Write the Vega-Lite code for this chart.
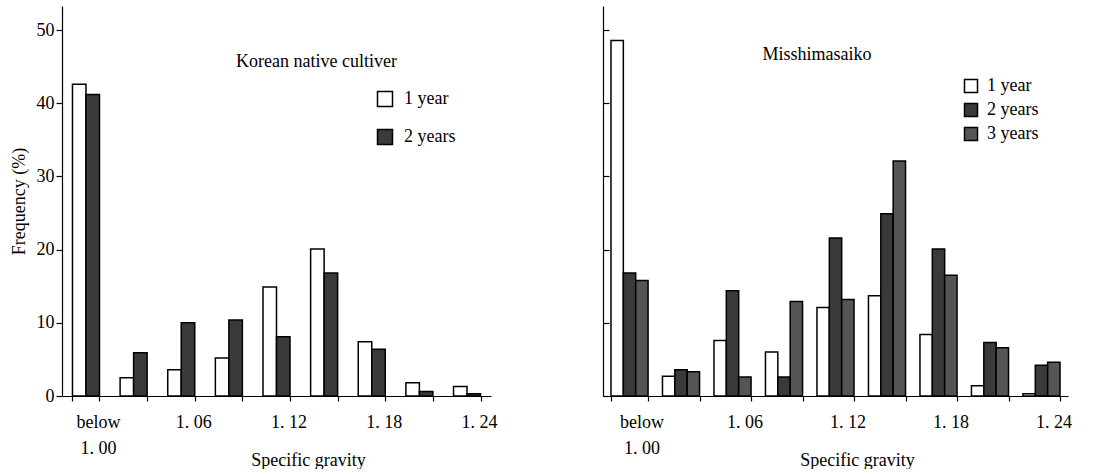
{
  "$schema": "https://vega.github.io/schema/vega-lite/v6.json",
  "padding": {"left": 10, "top": 6, "right": 5, "bottom": 0},
  "background": "white",
  "spacing": 104,
  "config": {
    "font": "'Liberation Serif', 'DejaVu Serif', serif",
    "view": {"stroke": null},
    "axis": {"labelFont": "'Liberation Serif', 'DejaVu Serif', serif", "titleFont": "'Liberation Serif', 'DejaVu Serif', serif", "labelFontSize": 18, "titleFontSize": 18, "titleFontWeight": "normal", "labelColor": "black", "titleColor": "black", "domainColor": "black", "tickColor": "black", "grid": false, "domainWidth": 1.2, "tickWidth": 1.2},
    "axisX": {"ticks": true, "tickBand": "extent", "tickSize": 5, "tickColor": "black", "tickOpacity": 1},
    "legend": {"labelFont": "'Liberation Serif', 'DejaVu Serif', serif", "labelFontSize": 18, "labelColor": "black", "padding": 0, "symbolType": "square", "symbolStrokeColor": "black", "symbolStrokeWidth": 1.5, "symbolOpacity": 1},
    "text": {"font": "'Liberation Serif', 'DejaVu Serif', serif", "fontSize": 18, "color": "black"}
  },
  "hconcat": [
    {
      "width": 429,
      "height": 390,
      "data": {"values": [
        {"gravity": "below 1.00", "age": "1 year", "freq": 42.6},
        {"gravity": "below 1.00", "age": "2 years", "freq": 41.2},
        {"gravity": "1. 03", "age": "1 year", "freq": 2.5},
        {"gravity": "1. 03", "age": "2 years", "freq": 5.9},
        {"gravity": "1. 06", "age": "1 year", "freq": 3.6},
        {"gravity": "1. 06", "age": "2 years", "freq": 10.0},
        {"gravity": "1. 09", "age": "1 year", "freq": 5.2},
        {"gravity": "1. 09", "age": "2 years", "freq": 10.4},
        {"gravity": "1. 12", "age": "1 year", "freq": 14.9},
        {"gravity": "1. 12", "age": "2 years", "freq": 8.1},
        {"gravity": "1. 15", "age": "1 year", "freq": 20.1},
        {"gravity": "1. 15", "age": "2 years", "freq": 16.8},
        {"gravity": "1. 18", "age": "1 year", "freq": 7.4},
        {"gravity": "1. 18", "age": "2 years", "freq": 6.4},
        {"gravity": "1. 21", "age": "1 year", "freq": 1.8},
        {"gravity": "1. 21", "age": "2 years", "freq": 0.6},
        {"gravity": "1. 24", "age": "1 year", "freq": 1.3},
        {"gravity": "1. 24", "age": "2 years", "freq": 0.3}
      ]},
      "layer": [
        {
          "mark": {"type": "bar", "stroke": "black", "strokeWidth": 1.5},
          "encoding": {
            "x": {"field": "gravity", "type": "nominal",
              "scale": {"domain": ["below 1.00", "1. 03", "1. 06", "1. 09", "1. 12", "1. 15", "1. 18", "1. 21", "1. 24"], "paddingInner": 0.433, "paddingOuter": 0.22},
              "axis": {"title": "Specific gravity", "labelAngle": 0, "labelPadding": 12, "labelOffset": 12, "labelLineHeight": 26, "labelBaseline": "top", "labelOverlap": false, "titleX": 246, "titleY": 55, "titleBaseline": "top",
                "labelExpr": "datum.value == 'below 1.00' ? ['below', '1. 00'] : (indexof(['1. 06', '1. 12', '1. 18', '1. 24'], datum.value) >= 0 ? datum.value : '')"}},
            "xOffset": {"field": "age", "type": "nominal", "scale": {"domain": ["1 year", "2 years"], "paddingInner": 0}},
            "y": {"field": "freq", "type": "quantitative", "scale": {"domain": [0, 53.3], "nice": false},
              "axis": {"title": "Frequency (%)", "values": [0, 10, 20, 30, 40, 50], "tickSize": 6, "labelPadding": 2, "titlePadding": 8}},
            "fill": {"field": "age", "type": "nominal", "scale": {"domain": ["1 year", "2 years"], "range": ["white", "#3a3a3a"]},
              "legend": {"title": null, "orient": "none", "legendX": 314, "legendY": 84, "symbolSize": 225, "rowPadding": 16, "labelOffset": 10}}
          }
        },
        {
          "data": {"values": [{"label": "Korean native cultiver"}]},
          "mark": {"type": "text", "align": "center", "baseline": "middle"},
          "encoding": {
            "x": {"datum": "1. 15", "type": "nominal", "bandPosition": 0.22},
            "y": {"datum": 45.6, "type": "quantitative"},
            "text": {"field": "label", "type": "nominal"}
          }
        }
      ]
    },
    {
      "width": 465,
      "height": 390,
      "data": {"values": [
        {"gravity": "below 1.00", "age": "1 year", "freq": 48.6},
        {"gravity": "below 1.00", "age": "2 years", "freq": 16.8},
        {"gravity": "below 1.00", "age": "3 years", "freq": 15.8},
        {"gravity": "1. 03", "age": "1 year", "freq": 2.7},
        {"gravity": "1. 03", "age": "2 years", "freq": 3.6},
        {"gravity": "1. 03", "age": "3 years", "freq": 3.3},
        {"gravity": "1. 06", "age": "1 year", "freq": 7.6},
        {"gravity": "1. 06", "age": "2 years", "freq": 14.4},
        {"gravity": "1. 06", "age": "3 years", "freq": 2.6},
        {"gravity": "1. 09", "age": "1 year", "freq": 6.0},
        {"gravity": "1. 09", "age": "2 years", "freq": 2.6},
        {"gravity": "1. 09", "age": "3 years", "freq": 12.9},
        {"gravity": "1. 12", "age": "1 year", "freq": 12.1},
        {"gravity": "1. 12", "age": "2 years", "freq": 21.6},
        {"gravity": "1. 12", "age": "3 years", "freq": 13.2},
        {"gravity": "1. 15", "age": "1 year", "freq": 13.7},
        {"gravity": "1. 15", "age": "2 years", "freq": 24.9},
        {"gravity": "1. 15", "age": "3 years", "freq": 32.1},
        {"gravity": "1. 18", "age": "1 year", "freq": 8.4},
        {"gravity": "1. 18", "age": "2 years", "freq": 20.1},
        {"gravity": "1. 18", "age": "3 years", "freq": 16.5},
        {"gravity": "1. 21", "age": "1 year", "freq": 1.4},
        {"gravity": "1. 21", "age": "2 years", "freq": 7.3},
        {"gravity": "1. 21", "age": "3 years", "freq": 6.6},
        {"gravity": "1. 24", "age": "1 year", "freq": 0.3},
        {"gravity": "1. 24", "age": "2 years", "freq": 4.2},
        {"gravity": "1. 24", "age": "3 years", "freq": 4.6}
      ]},
      "layer": [
        {
          "mark": {"type": "bar", "stroke": "black", "strokeWidth": 1.5},
          "encoding": {
            "x": {"field": "gravity", "type": "nominal",
              "scale": {"domain": ["below 1.00", "1. 03", "1. 06", "1. 09", "1. 12", "1. 15", "1. 18", "1. 21", "1. 24"], "paddingInner": 0.28, "paddingOuter": 0.155},
              "axis": {"title": "Specific gravity", "labelAngle": 0, "labelPadding": 12, "labelOffset": 12, "labelLineHeight": 26, "labelBaseline": "top", "labelOverlap": false, "titleX": 254, "titleY": 55, "titleBaseline": "top",
                "labelExpr": "datum.value == 'below 1.00' ? ['below', '1. 00'] : (indexof(['1. 06', '1. 12', '1. 18', '1. 24'], datum.value) >= 0 ? datum.value : '')"}},
            "xOffset": {"field": "age", "type": "nominal", "scale": {"domain": ["1 year", "2 years", "3 years"], "paddingInner": 0}},
            "y": {"field": "freq", "type": "quantitative", "scale": {"domain": [0, 53.3], "nice": false},
              "axis": {"title": null, "labels": false, "values": [0, 10, 20, 30, 40, 50], "tickSize": -6}},
            "fill": {"field": "age", "type": "nominal", "scale": {"domain": ["1 year", "2 years", "3 years"], "range": ["white", "#3a3a3a", "#555555"]},
              "legend": {"title": null, "orient": "none", "legendX": 359, "legendY": 71, "symbolSize": 169, "rowPadding": 4, "labelOffset": 7}}
          }
        },
        {
          "data": {"values": [{"label": "Misshimasaiko"}]},
          "mark": {"type": "text", "align": "center", "baseline": "middle"},
          "encoding": {
            "x": {"datum": "1. 12", "type": "nominal", "bandPosition": 0},
            "y": {"datum": 46.6, "type": "quantitative"},
            "text": {"field": "label", "type": "nominal"}
          }
        }
      ]
    }
  ],
  "resolve": {"scale": {"fill": "independent", "x": "independent", "xOffset": "independent", "y": "independent"}}
}
